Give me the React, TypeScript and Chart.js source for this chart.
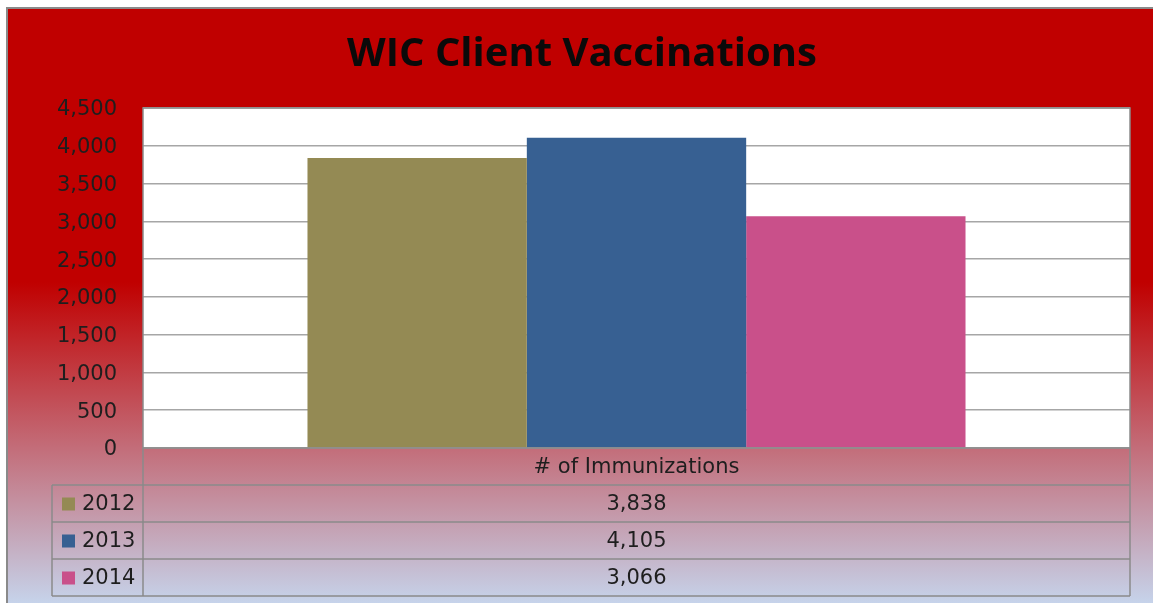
import React, { useEffect, useRef } from "react";
import { Chart, registerables } from "chart.js";

Chart.register(...registerables);

const titleText = "WIC Client Vaccinations";
const categories = ["# of Immunizations"];
const seriesNames = ["2012", "2013", "2014"];
const values2012 = [3838];
const values2013 = [4105];
const values2014 = [3066];
const seriesColors = ["#948A54", "#376092", "#C9508A"];
const yMin = 0;
const yMax = 4500;
const yStep = 500;

const W = 1153;
const H = 603;
const TEXT_FONT = '21px "DejaVu Sans"';
const TEXT_COLOR = "#1e1e1e";
const LINE_COLOR = "#8a8a8a";

const fmt = (v: number) => v.toLocaleString("en-US");

const backgroundPlugin = {
  id: "bgPlugin",
  beforeDraw(chart: any) {
    const ctx = chart.ctx;
    const area = chart.chartArea;
    ctx.save();
    ctx.fillStyle = "#ffffff";
    ctx.fillRect(0, 0, W, H);
    const g = ctx.createLinearGradient(0, 7, 0, 612);
    g.addColorStop(0, "#C00000");
    g.addColorStop(0.455, "#C00000");
    g.addColorStop(1, "#C6D9F1");
    ctx.fillStyle = g;
    ctx.fillRect(6, 7, W, H);
    ctx.fillStyle = "#8a8a8a";
    ctx.fillRect(6, 7, W, 2);
    ctx.fillRect(6, 7, 2, H);
    ctx.fillStyle = "#ffffff";
    ctx.fillRect(area.left, area.top, area.right - area.left, area.bottom - area.top);
    // title
    ctx.fillStyle = "#0a0a0a";
    ctx.font = 'bold 40px "Open Sans"';
    ctx.textAlign = "center";
    ctx.textBaseline = "alphabetic";
    ctx.fillText(titleText, 582, 66);
    ctx.restore();
  },
  afterDraw(chart: any) {
    const ctx = chart.ctx;
    const area = chart.chartArea;
    const rowH = 37;
    const legendLeft = 52;
    const left = area.left;
    const right = area.right;
    const top = area.bottom;
    const nRows = 1 + chart.data.datasets.length;
    const bottom = top + rowH * nRows;
    ctx.save();
    // plot border
    ctx.strokeStyle = LINE_COLOR;
    ctx.lineWidth = 1.5;
    ctx.strokeRect(left, area.top, right - left, area.bottom - area.top);
    // table lines
    ctx.beginPath();
    for (let r = 1; r <= nRows; r++) {
      const y = top + rowH * r;
      ctx.moveTo(legendLeft, y);
      ctx.lineTo(right, y);
    }
    ctx.moveTo(legendLeft, top + rowH);
    ctx.lineTo(legendLeft, bottom);
    ctx.moveTo(left, top);
    ctx.lineTo(left, bottom);
    ctx.moveTo(right, top);
    ctx.lineTo(right, bottom);
    ctx.stroke();
    // texts
    ctx.font = TEXT_FONT;
    ctx.fillStyle = TEXT_COLOR;
    ctx.textBaseline = "middle";
    ctx.textAlign = "center";
    const cx = (left + right) / 2;
    ctx.fillText(chart.data.labels[0], cx, top + rowH / 2 + 1);
    chart.data.datasets.forEach((ds: any, i: number) => {
      const yc = top + rowH * (i + 1) + rowH / 2 + 1;
      ctx.textAlign = "center";
      ctx.fillStyle = TEXT_COLOR;
      ctx.fillText(fmt(ds.data[0]), cx, yc);
      ctx.fillStyle = ds.backgroundColor;
      ctx.fillRect(62, yc - 7, 13, 13);
      ctx.fillStyle = TEXT_COLOR;
      ctx.textAlign = "left";
      ctx.fillText(ds.label, 82, yc);
    });
    ctx.restore();
  },
};

export default function App() {
  const ref = useRef<HTMLCanvasElement | null>(null);
  useEffect(() => {
    if (!ref.current) return;
    const seriesValues = [values2012, values2013, values2014];
    const chart = new Chart(ref.current, {
      type: "bar",
      data: {
        labels: categories,
        datasets: seriesNames.map((name, i) => ({
          label: name,
          data: seriesValues[i],
          backgroundColor: seriesColors[i],
          borderWidth: 0,
          categoryPercentage: 0.6667,
          barPercentage: 1,
        })),
      },
      options: {
        responsive: false,
        devicePixelRatio: 1,
        animation: false,
        events: [],
        layout: { padding: { top: 108, bottom: 155, right: 23, left: 0 } },
        plugins: {
          legend: { display: false },
          title: { display: false },
          tooltip: { enabled: false },
        },
        scales: {
          x: { display: false },
          y: {
            min: yMin,
            max: yMax,
            ticks: {
              stepSize: yStep,
              padding: 26,
              labelOffset: 2,
              color: TEXT_COLOR,
              font: { family: "DejaVu Sans", size: 21 },
              callback: (v: any) => fmt(Number(v)),
            },
            grid: { color: "#a6a6a6", lineWidth: 1.5, drawTicks: false },
            border: { display: false },
            afterFit: (scale: any) => {
              scale.width = 143;
            },
          },
        },
      },
      plugins: [backgroundPlugin],
    });
    return () => chart.destroy();
  }, []);
  return (
    <div style={{ position: "absolute", left: 0, top: 0, width: W, height: H }}>
      <canvas ref={ref} width={W} height={H} style={{ display: "block" }} />
    </div>
  );
}
